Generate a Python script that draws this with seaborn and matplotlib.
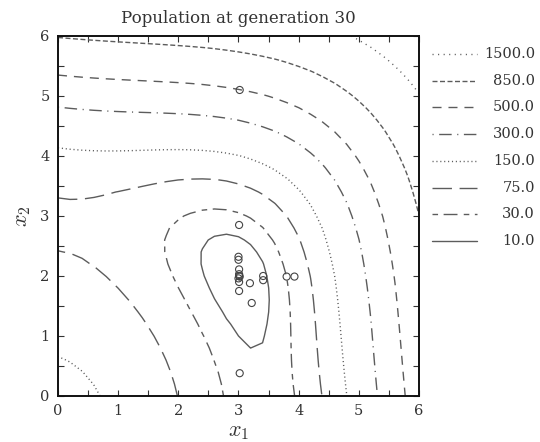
import numpy as np
import matplotlib
matplotlib.use("Agg")
import matplotlib.pyplot as plt
from matplotlib.lines import Line2D
import seaborn as sns

# contour levels (Himmelblau function) and their line styles
levels = [10.0, 30.0, 75.0, 150.0, 300.0, 500.0, 850.0, 1500.0]
styles = [
    "solid",
    (0, (4.0, 4.0, 10.0, 4.5)),
    (0, (14.0, 5.5)),
    (0, (0.8, 2.0)),
    (0, (0.8, 4.0, 9.0, 4.0)),
    (0, (6.5, 5.0)),
    (0, (3.6, 1.8)),
    (0, (0.8, 3.2)),
]

# population at generation 30
pop_x1 = [3.01, 3.00, 3.00, 3.01, 3.01, 3.01, 3.02, 3.00, 3.01, 3.19,
          3.41, 3.41, 3.80, 3.93, 3.01, 3.22, 3.02, 3.02]
pop_x2 = [2.85, 2.32, 2.27, 2.11, 2.03, 2.00, 1.99, 1.96, 1.90, 1.88,
          2.00, 1.93, 1.99, 1.99, 1.75, 1.55, 0.38, 5.10]

sns.set_style("ticks")
plt.rcParams["font.family"] = ["DejaVu Serif"]
plt.rcParams["mathtext.fontset"] = "cm"

fig = plt.figure(figsize=(5.4, 4.42), dpi=100)
ax = fig.add_axes([0.1074, 0.1041, 0.6685, 0.8145])

# grille grossiere de la fonction (pas de 0.2)
g = np.linspace(0, 6, 31)
X1, X2 = np.meshgrid(g, g)
F = (X1**2 + X2 - 11) ** 2 + (X1 + X2**2 - 7) ** 2

line_col = "#5c5c5c"
ax.contour(X1, X2, F, levels=levels, colors=line_col, linewidths=1.0,
           linestyles=styles)

sns.scatterplot(x=pop_x1, y=pop_x2, ax=ax, marker="o", s=26,
                facecolor="none", edgecolor="#444444", linewidth=0.8, zorder=3)

ax.set_xlim(0, 6)
ax.set_ylim(0, 6)
ax.set_xticks(range(7))
ax.set_yticks(range(7))
ax.set_xticks(np.arange(0, 6.01, 0.5), minor=True)
ax.set_yticks(np.arange(0, 6.01, 0.5), minor=True)
ax.tick_params(which="both", direction="in", top=True, right=True,
               length=4, width=0.8, labelsize=10.5, pad=6, colors="#333333")
for s in ax.spines.values():
    s.set_linewidth(1.4)
    s.set_color("#111111")

ax.set_xlabel("$x_1$", fontsize=16, labelpad=1, color="#333333")
ax.set_ylabel("$x_2$", fontsize=16, labelpad=5, color="#333333")
ax.set_title("Population at generation 30", fontsize=12, pad=9,
             color="#333333")

# legende a droite
for i, (lev, ls) in enumerate(zip(levels[::-1], styles[::-1])):
    yy = 1 - (54 + i * 26.7) / 442
    fig.add_artist(Line2D([432 / 540, 477 / 540], [yy, yy],
                          transform=fig.transFigure, color=line_col,
                          linewidth=1.0, linestyle=ls))
    fig.text(535 / 540, yy, f"{lev:.1f}", ha="right", va="center",
             fontsize=10.5, color="#333333")

fig.savefig("out.png", dpi=100)
